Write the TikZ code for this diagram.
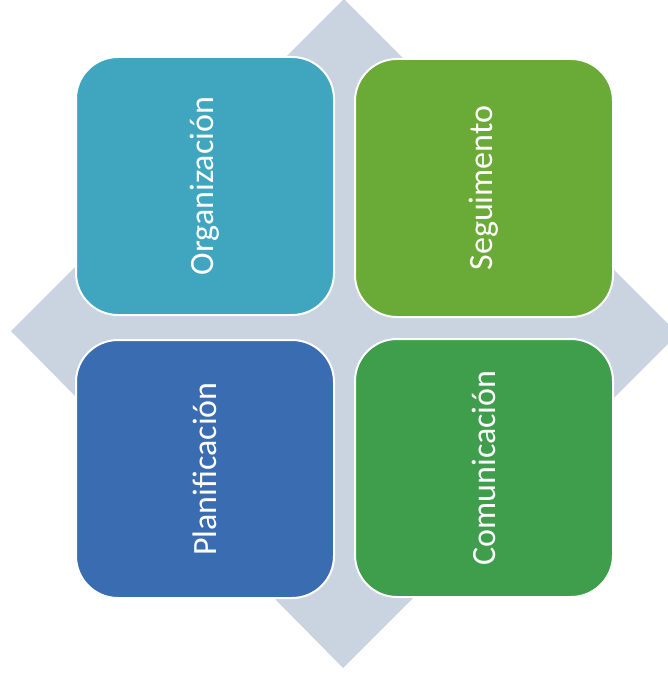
\documentclass[tikz,border=0pt]{standalone}
\usepackage{fontspec}
\setmainfont{Carlito}
\definecolor{diam}{HTML}{C9D4E0}
\definecolor{orgc}{HTML}{40A6C0}
\definecolor{segc}{HTML}{6AAA36}
\definecolor{plac}{HTML}{3A6CB2}
\definecolor{comc}{HTML}{3E9E4C}
\tikzset{
  quad/.style={draw=white, line width=2pt, rounded corners=42pt,
    minimum width=258pt, minimum height=258pt, inner sep=0pt,
    rotate=90, text=white, font=\fontsize{34}{40}\selectfont}
}
\begin{document}
\begin{tikzpicture}[x=1pt,y=-1pt]
\useasboundingbox (0,0) rectangle (668,677);
\fill[diam] (344,-1) -- (678,334) -- (343,668) -- (11,331) -- cycle;
\node[quad, fill=orgc] (org) at (205,186) {Organización};
\node[quad, fill=segc] (seg) at (484,188) {Seguimento};
\node[quad, fill=plac] (pla) at (205,469) {Planificación};
\node[quad, fill=comc] (com) at (484,468) {Comunicación};
\end{tikzpicture}
\end{document}
